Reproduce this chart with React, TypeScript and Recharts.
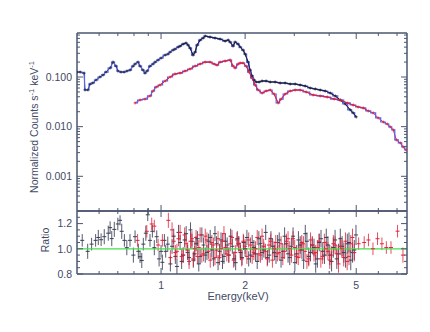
import React from "react";
import {
  ComposedChart,
  Line,
  Scatter,
  XAxis,
  YAxis,
  ErrorBar,
  ReferenceLine,
} from "recharts";

// spectrum, upper panel (keV, counts/s/keV)
const blackE = [
  0.5, 0.513, 0.53, 0.534, 0.547, 0.557, 0.57, 0.585, 0.604, 0.62, 0.635, 0.657, 0.673, 0.69, 0.701,
  0.719, 0.737, 0.755, 0.774, 0.794, 0.807, 0.827, 0.841, 0.862, 0.876, 0.891, 0.913, 0.936, 0.952,
  0.976, 1.0, 1.034, 1.059, 1.077, 1.104, 1.122, 1.151, 1.17, 1.199, 1.229, 1.25, 1.27, 1.302, 1.324,
  1.346, 1.38, 1.414, 1.438, 1.498, 1.561, 1.627, 1.696, 1.74, 1.767, 1.811, 1.842, 1.888, 1.92, 1.967,
  2.0, 2.05, 2.084, 2.119, 2.154, 2.19, 2.245, 2.301, 2.378, 2.459, 2.562, 2.67, 2.782, 2.9, 3.022,
  3.149, 3.282, 3.42, 3.565, 3.715, 3.871, 4.034, 4.205, 4.382, 4.566, 4.759, 4.878, 5.0,
];
const blackCounts = [
  0.126, 0.126, 0.12, 0.055, 0.055, 0.072, 0.076, 0.087, 0.1, 0.11, 0.126, 0.152, 0.2, 0.166, 0.132,
  0.126, 0.126, 0.132, 0.138, 0.166, 0.183, 0.2, 0.166, 0.138, 0.12, 0.132, 0.166, 0.183, 0.2,
  0.22, 0.241, 0.277, 0.29, 0.318, 0.349, 0.366, 0.401, 0.42, 0.461, 0.483, 0.44, 0.383, 0.277, 0.318,
  0.44, 0.555, 0.609, 0.668, 0.638, 0.609, 0.582, 0.53, 0.555, 0.506, 0.42, 0.506, 0.461, 0.401, 0.349,
  0.29, 0.2, 0.138, 0.105, 0.087, 0.0793, 0.0793, 0.0831, 0.0831, 0.0793, 0.0793, 0.0757, 0.0757, 0.0723, 0.0723,
  0.069, 0.0659, 0.0601, 0.0574, 0.0547, 0.0523, 0.0476, 0.0415, 0.0344, 0.0286, 0.0217, 0.0189, 0.0157,
];
const redE = [
  0.807, 0.841, 0.876, 0.913, 0.936, 0.96, 0.992, 1.034, 1.077, 1.122, 1.17, 1.219, 1.27, 1.324, 1.38,
  1.438, 1.498, 1.549, 1.587, 1.627, 1.696, 1.767, 1.811, 1.842, 1.888, 1.92, 1.967, 2.017, 2.067,
  2.119, 2.172, 2.227, 2.301, 2.378, 2.459, 2.541, 2.626, 2.692, 2.782, 2.9, 3.022, 3.149, 3.309,
  3.506, 3.715, 3.936, 4.169, 4.382, 4.642, 4.878, 5.08, 5.3, 5.52, 5.75, 5.99, 6.25, 6.46, 6.62,
  6.79, 6.96, 7.19, 7.37, 7.55,
];
const redCounts = [
  0.03, 0.0344, 0.036, 0.0415, 0.0523, 0.0629, 0.069, 0.0831, 0.1, 0.115, 0.12, 0.132, 0.145, 0.166, 0.183,
  0.2, 0.2, 0.183, 0.174, 0.2, 0.21, 0.22, 0.166, 0.152, 0.183, 0.191, 0.191, 0.166, 0.126,
  0.0955, 0.069, 0.0547, 0.0476, 0.0523, 0.0547, 0.0455, 0.03, 0.036, 0.0455, 0.0523, 0.0547, 0.0547, 0.0499,
  0.0434, 0.0415, 0.0396, 0.036, 0.0344, 0.03, 0.0273, 0.0249, 0.0238, 0.0207, 0.0189, 0.015, 0.0124, 0.0113, 0.00987,
  0.00858, 0.0054, 0.0047, 0.0039, 0.0034,
];

// ratio, lower panel
const blackRatioE = [
  0.522, 0.546, 0.564, 0.583, 0.596, 0.61, 0.626, 0.647, 0.657, 0.666, 0.68, 0.7, 0.713, 0.723, 0.739,
  0.754, 0.774, 0.796, 0.807, 0.829, 0.841, 0.853, 0.864, 0.882, 0.896, 0.913, 0.931, 0.946, 0.965,
  0.984, 1.0, 1.011, 1.028, 1.039, 1.057,
  1.08, 1.11, 1.14, 1.17, 1.2, 1.23, 1.26, 1.29, 1.32, 1.35, 1.38, 1.42, 1.46, 1.5, 1.54, 1.58, 1.62,
  1.66, 1.7, 1.75, 1.8, 1.85, 1.9, 1.95, 2.0, 2.06, 2.12, 2.18, 2.24, 2.3, 2.37, 2.44, 2.51, 2.58,
  2.65, 2.73, 2.81, 2.89, 2.97, 3.06, 3.15, 3.24, 3.33, 3.43, 3.53, 3.63, 3.74, 3.85, 3.96, 4.08,
  4.2, 4.32, 4.45, 4.58, 4.71, 4.85, 4.99,
  1.095, 1.125, 1.155, 1.185, 1.215, 1.245, 1.275, 1.305, 1.335, 1.365, 1.4, 1.44, 1.48, 1.52, 1.56,
  1.6, 1.64, 1.68, 1.725, 1.775, 1.825, 1.875, 1.925, 1.975, 2.03, 2.09, 2.15, 2.21, 2.27, 2.335,
  2.405, 2.475, 2.545, 2.615, 2.69, 2.77, 2.85, 2.93, 3.015, 3.105, 3.195, 3.285, 3.38, 3.48, 3.58,
  3.685, 3.795, 3.905, 4.02, 4.14, 4.26, 4.385, 4.515, 4.645, 4.78, 4.92,
];
const blackRatio = [
  1.067, 0.98, 1.037, 1.067, 1.09, 1.072, 1.096, 1.124, 1.168, 1.081, 1.154, 1.197, 1.226, 1.139, 1.067,
  1.009, 1.067, 0.95, 1.096, 0.98, 0.937, 0.907, 1.037, 1.124, 1.27, 1.067, 1.139, 1.009, 1.096,
  0.92, 0.98, 0.893, 1.067, 0.98, 1.037,
  0.88, 1.1, 0.86, 1.05, 0.95, 1.12, 0.93, 1.06, 0.96, 1.08, 0.94, 1.03, 0.97, 1.09, 0.92, 1.04, 0.98,
  0.9, 1.06, 0.95, 1.02, 0.89, 1.04, 0.93, 1.0, 0.92, 1.05, 0.96, 1.08, 0.97, 1.13, 0.95, 1.02, 0.94,
  1.07, 0.98, 1.04, 0.93, 1.1, 0.96, 1.03, 0.91, 1.06, 0.97, 1.01, 0.92, 1.08, 0.95, 1.03, 0.9,
  1.07, 0.96, 1.02, 0.93, 1.05, 0.97, 1.11,
  1.02, 0.94, 1.13, 0.9, 1.07, 0.97, 1.15, 0.91, 1.04, 0.88, 1.11, 0.95, 1.06, 0.99, 1.12,
  0.89, 1.07, 0.94, 1.03, 1.1, 0.92, 1.08, 0.97, 1.05, 1.09, 0.95, 1.01, 0.9, 1.04, 0.99,
  0.93, 1.08, 0.97, 1.05, 0.91, 1.1, 0.96, 1.02, 0.89, 1.07, 0.99, 1.12, 0.94, 1.03, 0.88,
  1.05, 0.98, 1.09, 0.95, 1.01, 0.92, 1.08, 0.97, 1.04, 0.91, 0.99,
];
const blackRatioErr = [
  0.05, 0.06, 0.05, 0.05, 0.06, 0.05, 0.06, 0.06, 0.05, 0.06, 0.06, 0.05, 0.04, 0.06, 0.05,
  0.06, 0.05, 0.06, 0.05, 0.06, 0.05, 0.06, 0.05, 0.06, 0.05, 0.05, 0.05, 0.06, 0.05,
  0.06, 0.05, 0.06, 0.05, 0.05, 0.06,
  0.06, 0.06, 0.06, 0.06, 0.06, 0.06, 0.06, 0.06, 0.06, 0.06, 0.06, 0.06, 0.06, 0.06, 0.06, 0.06, 0.06,
  0.06, 0.06, 0.06, 0.06, 0.06, 0.06, 0.06, 0.06, 0.06, 0.06, 0.06, 0.06, 0.06, 0.06, 0.06, 0.06, 0.06,
  0.06, 0.06, 0.06, 0.06, 0.07, 0.07, 0.07, 0.07, 0.07, 0.07, 0.07, 0.07, 0.07, 0.07, 0.07, 0.08,
  0.08, 0.08, 0.08, 0.08, 0.08, 0.08, 0.08,
  0.06, 0.06, 0.06, 0.06, 0.06, 0.06, 0.06, 0.06, 0.06, 0.06, 0.06, 0.06, 0.06, 0.06, 0.06,
  0.06, 0.06, 0.06, 0.06, 0.06, 0.06, 0.06, 0.06, 0.06, 0.06, 0.06, 0.06, 0.06, 0.06, 0.06,
  0.06, 0.06, 0.06, 0.06, 0.06, 0.07, 0.07, 0.07, 0.07, 0.07, 0.07, 0.07, 0.07, 0.07, 0.07,
  0.07, 0.07, 0.07, 0.08, 0.08, 0.08, 0.08, 0.08, 0.08, 0.08, 0.08,
];
const redRatioE = [
  0.824, 0.889, 0.926, 0.946, 0.976, 1.011, 1.062,
  1.095, 1.125, 1.155, 1.185, 1.215, 1.245, 1.275, 1.305, 1.335, 1.365, 1.4, 1.44, 1.48, 1.52, 1.56,
  1.6, 1.64, 1.68, 1.72, 1.77, 1.82, 1.87, 1.92, 1.97, 2.03, 2.09, 2.15, 2.21, 2.27, 2.33, 2.4, 2.47,
  2.54, 2.61, 2.69, 2.77, 2.85, 2.93, 3.01, 3.1, 3.19, 3.28, 3.38, 3.48, 3.58, 3.68, 3.79, 3.9, 4.02,
  4.14, 4.26, 4.38, 4.51, 4.64, 4.78, 4.92,
  5.1, 5.34, 5.53, 5.74, 5.96, 6.18, 6.41, 6.66, 7.03, 7.35,
  1.08, 1.11, 1.14, 1.17, 1.2, 1.23, 1.26, 1.29, 1.32, 1.35, 1.38, 1.42, 1.46, 1.5, 1.54,
  1.58, 1.62, 1.66, 1.7, 1.745, 1.795, 1.845, 1.895, 1.945, 2.0, 2.06, 2.12, 2.18, 2.24, 2.3,
  2.365, 2.435, 2.505, 2.575, 2.65, 2.73, 2.81, 2.89, 2.97, 3.055, 3.145, 3.235, 3.33, 3.43, 3.53,
  3.63, 3.735, 3.845, 3.96, 4.08, 4.2, 4.32, 4.445, 4.575, 4.71, 4.85,
];
const redRatio = [
  1.067, 1.139, 1.197, 1.18, 1.03, 1.067, 1.226,
  1.15, 0.97, 1.08, 0.94, 1.11, 0.99, 1.06, 0.92, 1.09, 1.01, 0.95, 1.1, 0.98, 1.05, 0.93,
  1.08, 1.0, 1.12, 0.96, 1.04, 0.91, 1.07, 0.99, 1.06, 0.94, 1.03, 0.97, 1.09, 0.95, 1.02, 0.92, 1.06,
  1.0, 0.96, 1.04, 0.98, 1.08, 0.95, 1.01, 0.93, 1.05, 0.98, 0.92, 1.03, 0.97, 1.06, 0.94, 1.0, 0.91,
  1.04, 0.96, 1.02, 0.93, 0.9, 1.04, 0.97,
  1.04, 1.05, 1.07, 1.0, 1.08, 1.04, 1.01, 1.01, 1.14, 0.95,
  0.93, 1.06, 0.98, 1.13, 0.95, 1.04, 0.9, 1.08, 1.0, 0.94, 1.11, 0.96, 1.07, 0.91, 1.03,
  0.99, 0.93, 1.06, 1.01, 0.95, 1.09, 0.97, 1.04, 0.92, 1.02, 1.07, 0.94, 1.0, 0.96, 1.1,
  0.98, 1.03, 0.91, 1.05, 0.97, 0.93, 1.06, 1.0, 1.08, 0.94, 0.99, 1.04, 0.9, 1.07, 0.96,
  1.01, 0.92, 1.05, 0.98, 0.95, 1.03, 0.88, 1.0, 1.06, 0.94, 1.09,
];
const redRatioErr = [
  0.05, 0.05, 0.05, 0.05, 0.05, 0.05, 0.06,
  0.06, 0.06, 0.06, 0.06, 0.06, 0.06, 0.06, 0.06, 0.06, 0.06, 0.06, 0.06, 0.06, 0.06, 0.06,
  0.06, 0.06, 0.06, 0.06, 0.06, 0.06, 0.06, 0.06, 0.06, 0.06, 0.06, 0.06, 0.06, 0.06, 0.06, 0.06, 0.06,
  0.06, 0.06, 0.06, 0.06, 0.06, 0.06, 0.06, 0.06, 0.06, 0.06, 0.06, 0.06, 0.06, 0.06, 0.06, 0.06, 0.07,
  0.07, 0.07, 0.07, 0.07, 0.07, 0.07, 0.07,
  0.05, 0.05, 0.05, 0.05, 0.05, 0.05, 0.05, 0.05, 0.05, 0.06,
  0.06, 0.06, 0.06, 0.06, 0.06, 0.06, 0.06, 0.06, 0.06, 0.06, 0.06, 0.06, 0.06, 0.06, 0.06,
  0.06, 0.06, 0.06, 0.06, 0.06, 0.06, 0.06, 0.06, 0.06, 0.06, 0.06, 0.06, 0.06, 0.06, 0.06,
  0.06, 0.06, 0.06, 0.06, 0.06, 0.06, 0.06, 0.06, 0.06, 0.06, 0.06, 0.06, 0.06, 0.06, 0.06,
  0.06, 0.07, 0.07, 0.07, 0.07, 0.07, 0.07, 0.07, 0.07, 0.07, 0.07,
];

// axis ticks
const energyTicks = [0.6, 0.7, 0.8, 0.9, 1, 2, 3, 4, 5, 6, 7];
const energyMajor = [1, 2, 5];
const energyLabels: Record<string, string> = { "1": "1", "2": "2", "5": "5" };
const countTicks = [
  0.0003, 0.0004, 0.0005, 0.0006, 0.0007, 0.0008, 0.0009,
  0.001, 0.002, 0.003, 0.004, 0.005, 0.006, 0.007, 0.008, 0.009,
  0.01, 0.02, 0.03, 0.04, 0.05, 0.06, 0.07, 0.08, 0.09,
  0.1, 0.2, 0.3, 0.4, 0.5, 0.6, 0.7,
];
const countMajor = [0.001, 0.01, 0.1];
const countLabels: Record<string, string> = { "0.001": "0.001", "0.01": "0.010", "0.1": "0.100" };
const ratioTicks = [0.8, 0.85, 0.9, 0.95, 1, 1.05, 1.1, 1.15, 1.2, 1.25];
const ratioMajor = [0.8, 1, 1.2];
const ratioLabels: Record<string, string> = { "0.8": "0.8", "1": "1.0", "1.2": "1.2" };

const AXIS = "#4b5670";
const TEXT = "#3f4a66";
const BLACK = "#1f2135";
const BLUE = "#5466f0";
const RED = "#e4203a";
const GREEN = "#44e04a";
const RATIO_BLACK = "#3a3e54";
const FONT = "'Liberation Sans', Arial, Helvetica, sans-serif";

const blackSpec = blackE.map((e, i) => ({ e, c: blackCounts[i] }));
const redSpec = redE.map((e, i) => ({ e, c: redCounts[i] }));
// where the data bins are dense the data hides the model
const blackDense = blackSpec.filter((d) => d.e >= 1.15);
const redDense = redSpec.filter((d) => d.e >= 0.95 && d.e <= 5.6);
const blackRatioData = blackRatioE.map((e, i) => ({ e, r: blackRatio[i], err: blackRatioErr[i] }));
const redRatioData = redRatioE.map((e, i) => ({ e, r: redRatio[i], err: redRatioErr[i] }));

type Side = "left" | "right" | "top" | "bottom";

const makeTick = (side: Side, majors: number[], labels?: Record<string, string>) => (props: any) => {
  const { x, y, payload } = props;
  const v = payload.value;
  const len = majors.includes(v) ? 6 : 3;
  const label = labels ? labels[String(v)] : undefined;
  let d = "";
  if (side === "left") d = `M${x},${y}h${len}`;
  if (side === "right") d = `M${x},${y}h${-len}`;
  if (side === "top") d = `M${x},${y}v${len}`;
  if (side === "bottom") d = `M${x},${y}v${-len}`;
  return (
    <g>
      <path d={d} stroke={AXIS} strokeWidth={1} />
      {label && side === "left" && (
        <text x={x - 5} y={y + 3.8} textAnchor="end" fontSize={10.5} fill={TEXT} fontFamily={FONT}>
          {label}
        </text>
      )}
      {label && side === "bottom" && (
        <text x={x} y={y + 15} textAnchor="middle" fontSize={10.5} fill={TEXT} fontFamily={FONT}>
          {label}
        </text>
      )}
    </g>
  );
};

const crossDot = (color: string) => (props: any) => {
  const { cx, cy, index } = props;
  if (cx == null || cy == null) return <g key={index} />;
  return (
    <path
      key={index}
      d={`M${cx - 1.5},${cy}h3M${cx},${cy - 1.5}v3`}
      stroke={color}
      strokeWidth={0.8}
      fill="none"
    />
  );
};

const ratioCross = (color: string) => (props: any) => {
  const { cx, cy } = props;
  return <path d={`M${cx - 2},${cy}h4`} stroke={color} strokeWidth={1} fill="none" />;
};

const axisLineStyle = { stroke: AXIS, strokeWidth: 1.5 };
const energyAxis = {
  dataKey: "e",
  type: "number" as const,
  scale: "log" as const,
  domain: [0.5, 7.6],
  allowDataOverflow: true,
  ticks: energyTicks,
  interval: 0,
  height: 1,
  tickSize: 0,
  tickMargin: 0,
  axisLine: axisLineStyle,
  tickLine: false,
};

export default function App() {
  return (
    <div style={{ position: "fixed", left: 0, top: 0, width: 430, height: 332, background: "#fff" }}>
      <div style={{ position: "absolute", left: 0, top: 0 }}>
        <ComposedChart width={430} height={212} margin={{ top: 32, right: 22, bottom: 0, left: 76 }}>
          <XAxis {...energyAxis} tick={makeTick("bottom", energyMajor)} />
          <XAxis {...energyAxis} xAxisId="top" orientation="top" tick={makeTick("top", energyMajor)} />
          <YAxis
            type="number"
            scale="log"
            domain={[0.0002, 0.77]}
            allowDataOverflow
            ticks={countTicks}
            interval={0}
            width={1}
            tickSize={0}
            tickMargin={0}
            axisLine={axisLineStyle}
            tickLine={false}
            tick={makeTick("left", countMajor, countLabels)}
          />
          <YAxis
            yAxisId="right"
            orientation="right"
            type="number"
            scale="log"
            domain={[0.0002, 0.77]}
            allowDataOverflow
            ticks={countTicks}
            interval={0}
            width={1}
            tickSize={0}
            tickMargin={0}
            axisLine={axisLineStyle}
            tickLine={false}
            tick={makeTick("right", countMajor)}
          />
          <Line data={blackSpec} dataKey="c" type="linear" stroke={BLACK} strokeWidth={1} dot={crossDot(BLACK)} isAnimationActive={false} />
          <Line data={blackSpec} dataKey="c" type="step" stroke={BLUE} strokeWidth={1.2} dot={false} isAnimationActive={false} />
          <Line data={blackDense} dataKey="c" type="linear" stroke={BLACK} strokeWidth={1} dot={false} isAnimationActive={false} />
          <Line data={redSpec} dataKey="c" type="linear" stroke={RED} strokeWidth={1} dot={crossDot(RED)} isAnimationActive={false} />
          <Line data={redSpec} dataKey="c" type="step" stroke={BLUE} strokeWidth={1.2} dot={false} isAnimationActive={false} />
          <Line data={redDense} dataKey="c" type="linear" stroke={RED} strokeWidth={1} dot={false} isAnimationActive={false} />
        </ComposedChart>
      </div>
      <div style={{ position: "absolute", left: 0, top: 205 }}>
        <ComposedChart width={430} height={127} margin={{ top: 5, right: 22, bottom: 57, left: 76 }}>
          <XAxis {...energyAxis} tick={makeTick("bottom", energyMajor, energyLabels)} />
          <XAxis {...energyAxis} xAxisId="top" orientation="top" tick={makeTick("top", energyMajor)} />
          <YAxis
            type="number"
            domain={[0.8, 1.3]}
            allowDataOverflow
            ticks={ratioTicks}
            interval={0}
            width={1}
            tickSize={0}
            tickMargin={0}
            axisLine={axisLineStyle}
            tickLine={false}
            tick={makeTick("left", ratioMajor, ratioLabels)}
          />
          <YAxis
            yAxisId="right"
            orientation="right"
            type="number"
            domain={[0.8, 1.3]}
            allowDataOverflow
            ticks={ratioTicks}
            interval={0}
            width={1}
            tickSize={0}
            tickMargin={0}
            axisLine={axisLineStyle}
            tickLine={false}
            tick={makeTick("right", ratioMajor)}
          />
          <Scatter data={blackRatioData} dataKey="r" shape={ratioCross(RATIO_BLACK)} isAnimationActive={false}>
            <ErrorBar dataKey="err" direction="y" width={0} stroke={RATIO_BLACK} strokeWidth={1} strokeOpacity={0.85} />
          </Scatter>
          <Scatter data={redRatioData} dataKey="r" shape={ratioCross(RED)} isAnimationActive={false}>
            <ErrorBar dataKey="err" direction="y" width={0} stroke={RED} strokeWidth={1} strokeOpacity={0.8} />
          </Scatter>
          <ReferenceLine y={1} stroke={GREEN} strokeWidth={1.2} />
        </ComposedChart>
      </div>
      <svg width={430} height={332} style={{ position: "absolute", left: 0, top: 0, pointerEvents: "none" }}>
        <text
          transform="translate(38,127) rotate(-90)"
          textAnchor="middle"
          fontSize={10.5}
          fill={TEXT}
          fontFamily={FONT}
        >
          Normalized Counts s
          <tspan fontSize={7.5} dy={-4}>-1</tspan>
          <tspan dy={4}>  keV</tspan>
          <tspan fontSize={7.5} dy={-4}>-1</tspan>
        </text>
        <text transform="translate(49,240) rotate(-90)" textAnchor="middle" fontSize={10.5} fill={TEXT} fontFamily={FONT}>
          Ratio
        </text>
        <text x={238} y={300} textAnchor="middle" fontSize={11} fill={TEXT} fontFamily={FONT}>
          Energy(keV)
        </text>
      </svg>
    </div>
  );
}
